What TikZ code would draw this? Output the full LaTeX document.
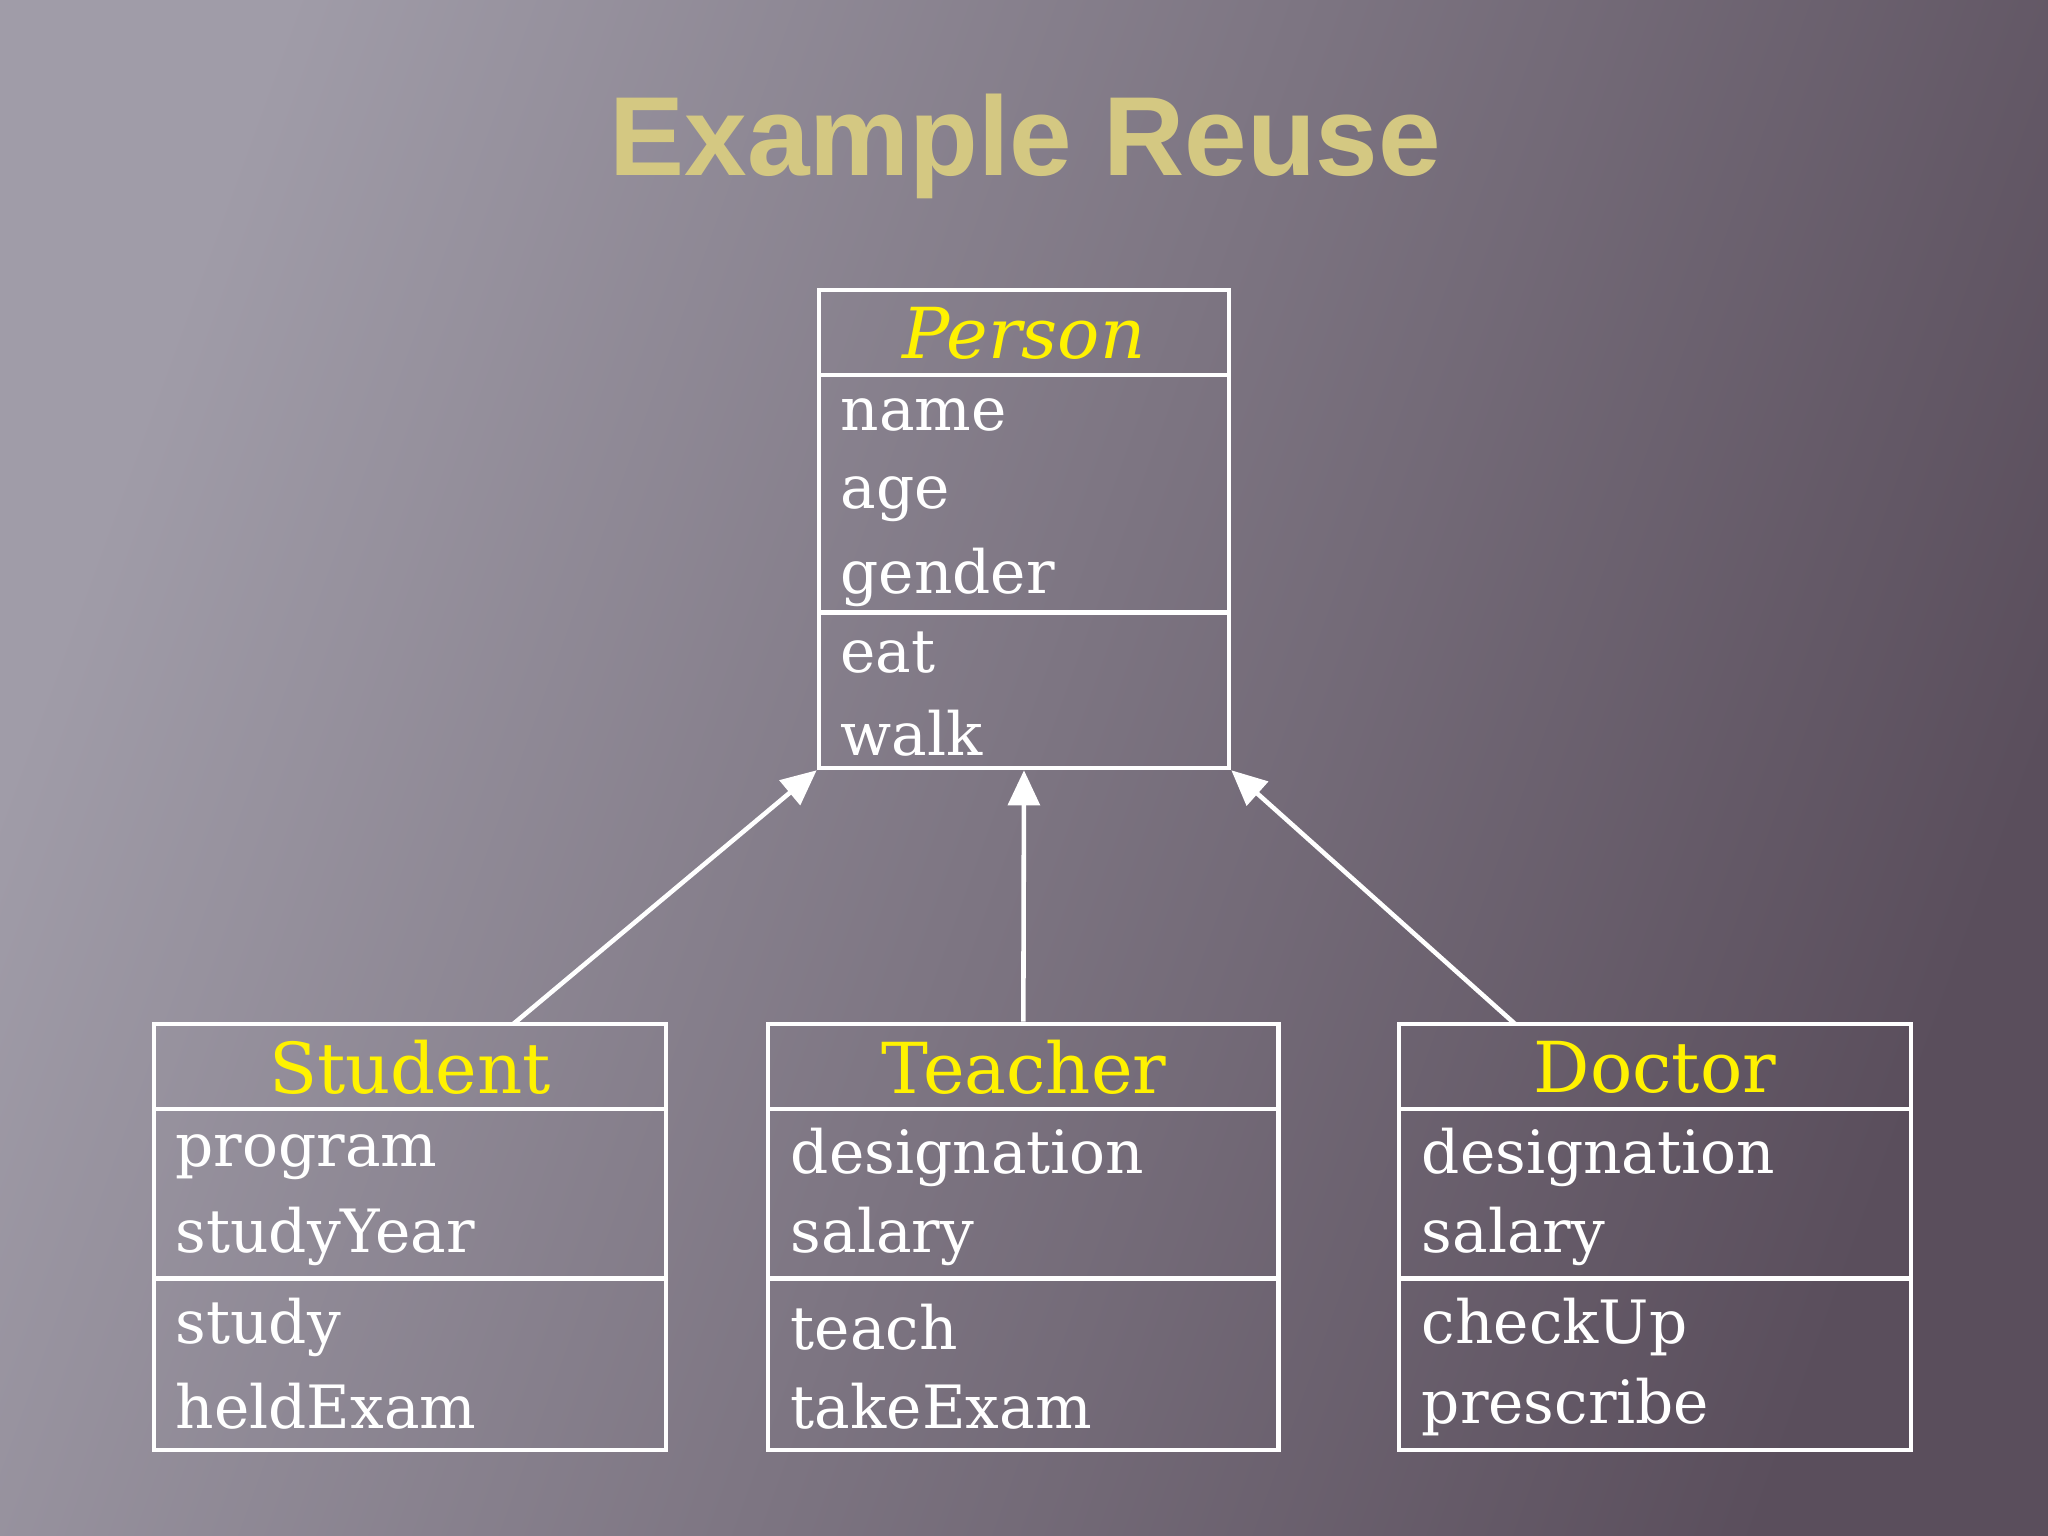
\documentclass[tikz,border=0pt]{standalone}
\usepackage{fontspec}
\setmainfont{DejaVu Serif}
\newfontfamily\titlefont{Liberation Sans}
\usetikzlibrary{arrows.meta,shadows}
\begin{document}
\begin{tikzpicture}[x=0.01306cm,y=-0.01306cm,
  box/.style={draw=white,line width=1.3pt,rectangle,inner sep=0},
  sep/.style={draw=white,line width=1.3pt},
  hd/.style={text=yellow,font=\fontsize{20}{24}\selectfont},
  at1/.style={text=white,anchor=west,font=\fontsize{17}{21}\selectfont,inner sep=0},
  inh/.style={draw=white,line width=1.3pt,-{Triangle[open=false,fill=white,length=10pt,width=9pt]}}]
\useasboundingbox (0,0) rectangle (1568,1176);
\shade[left color={rgb,255:red,160;green,156;blue,168},right color={rgb,255:red,90;green,78;blue,92},shading angle=70] (0,0) rectangle (1568,1176);
\node[text={rgb,255:red,212;green,200;blue,130},font=\titlefont\bfseries\fontsize{32}{36}\selectfont] (title) at (785,112) {Example Reuse};
% Person
\node[box,minimum width=314*0.01306cm,minimum height=366*0.01306cm] (person) at (784,405) {};
\draw[sep] (627,287) -- (941,287) (627,469) -- (941,469);
\node[hd,font=\itshape\fontsize{20}{24}\selectfont] (pt) at (784,255) {Person};
\node[at1] (p1) at (643,318) {name};
\node[at1] (p2) at (643,382) {age};
\node[at1] (p3) at (643,442) {gender};
\node[at1] (p4) at (643,500) {eat};
\node[at1] (p5) at (643,561) {walk};
% Student
\node[box,minimum width=392*0.01306cm,minimum height=326*0.01306cm] (student) at (314,947) {};
\draw[sep] (118,849) -- (510,849) (118,979) -- (510,979);
\node[hd] (st) at (314,817) {Student};
\node[at1] (s1) at (134,886) {program};
\node[at1] (s2) at (134,947) {studyYear};
\node[at1] (s3) at (134,1016) {study};
\node[at1] (s4) at (134,1077) {heldExam};
% Teacher
\node[box,minimum width=391*0.01306cm,minimum height=326*0.01306cm] (teacher) at (783.5,947) {};
\draw[sep] (588,849) -- (979,849) (588,979) -- (979,979);
\node[hd] (tt) at (784,817) {Teacher};
\node[at1] (t1) at (605,886) {designation};
\node[at1] (t2) at (605,947) {salary};
\node[at1] (t3) at (605,1016) {teach};
\node[at1] (t4) at (605,1077) {takeExam};
% Doctor
\node[box,minimum width=392*0.01306cm,minimum height=326*0.01306cm] (doctor) at (1267,947) {};
\draw[sep] (1071,849) -- (1463,849) (1071,979) -- (1463,979);
\node[hd] (dt) at (1267,817) {Doctor};
\node[at1] (d1) at (1088,886) {designation};
\node[at1] (d2) at (1088,947) {salary};
\node[at1] (d3) at (1088,1016) {checkUp};
\node[at1] (d4) at (1088,1077) {prescribe};
% arrows
\coordinate (sa) at (393,784);
\coordinate (da) at (1160,784);
\draw[inh] (sa) -- (person.south west);
\draw[inh] (teacher.north) -- (person.south);
\draw[inh] (da) -- (person.south east);
\end{tikzpicture}
\end{document}
